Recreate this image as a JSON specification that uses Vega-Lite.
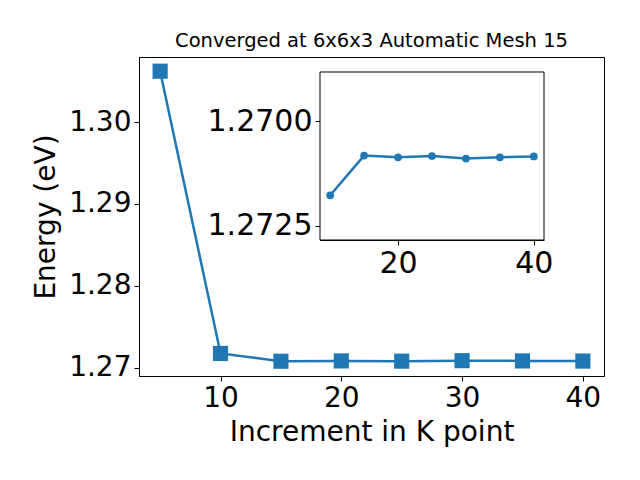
{
  "$schema": "https://vega.github.io/schema/vega-lite/v6.json",
  "autosize": "none",
  "width": 465,
  "height": 319,
  "padding": {"left": 139, "top": 57, "right": 36, "bottom": 104},
  "background": "white",
  "title": {"text": "Converged at 6x6x3 Automatic Mesh 15", "fontSize": 19.5, "fontWeight": "normal", "font": "DejaVu Sans", "color": "black", "offset": 6},
  "config": {
    "font": "DejaVu Sans",
    "view": {"stroke": "black", "strokeWidth": 1},
    "axis": {"grid": false, "domainColor": "black", "tickColor": "black", "labelColor": "black", "titleColor": "black", "labelFontSize": 28, "titleFontSize": 28, "titleFontWeight": "normal", "tickSize": 5, "labelPadding": 3, "labelFont": "DejaVu Sans", "titleFont": "DejaVu Sans"}
  },
  "datasets": {
    "energy": [
      {"k": 5, "E": 1.3062},
      {"k": 10, "E": 1.27177},
      {"k": 15, "E": 1.27082},
      {"k": 20, "E": 1.27086},
      {"k": 25, "E": 1.27083},
      {"k": 30, "E": 1.27089},
      {"k": 35, "E": 1.27086},
      {"k": 40, "E": 1.27084}
    ]
  },
  "layer": [
    {
      "data": {"name": "energy"},
      "mark": {"type": "line", "color": "#1f77b4", "strokeWidth": 2.5, "point": {"shape": "square", "size": 230, "filled": true, "color": "#1f77b4", "opacity": 1}},
      "encoding": {
        "x": {"field": "k", "type": "quantitative", "scale": {"domain": [3.25, 41.75], "nice": false, "zero": false}, "axis": {"title": "Increment in K point", "values": [10, 20, 30, 40], "titlePadding": 6, "orient": "bottom"}},
        "y": {"field": "E", "type": "quantitative", "scale": {"domain": [1.26902, 1.30793], "nice": false, "zero": false}, "axis": {"title": "Energy (eV)", "values": [1.27, 1.28, 1.29, 1.30], "format": ".2f", "titlePadding": 8, "orient": "left"}}
      }
    },
    {
      "data": {"name": "energy"},
      "transform": [{"filter": "datum.k >= 10"}],
      "layer": [
        {
          "data": {"values": [{}]},
          "mark": {"type": "rect", "fill": "white", "fillOpacity": 1, "stroke": "black", "strokeWidth": 1},
          "encoding": {
            "x": {"datum": 8.5, "type": "quantitative"},
            "x2": {"datum": 41.5},
            "y": {"datum": 1.26882, "type": "quantitative"},
            "y2": {"datum": 1.27284}
          }
        },
        {
          "mark": {"type": "line", "color": "#1f77b4", "strokeWidth": 2.5, "point": {"shape": "circle", "size": 60, "filled": true, "color": "#1f77b4", "opacity": 1}},
          "encoding": {
            "x": {"field": "k", "type": "quantitative", "scale": {"domain": [8.5, 41.5], "range": [181, 405], "nice": false, "zero": false}, "axis": {"title": null, "orient": "bottom", "offset": -136, "values": [20, 40], "labelFontSize": 30}},
            "y": {"field": "E", "type": "quantitative", "scale": {"domain": [1.26882, 1.27284], "range": [15, 183], "nice": false, "zero": false}, "axis": {"title": null, "orient": "left", "offset": -181, "values": [1.27, 1.2725], "format": ".4f", "labelFontSize": 30}}
          }
        }
      ]
    }
  ],
  "resolve": {"scale": {"x": "independent", "y": "independent"}, "axis": {"x": "independent", "y": "independent"}}
}
